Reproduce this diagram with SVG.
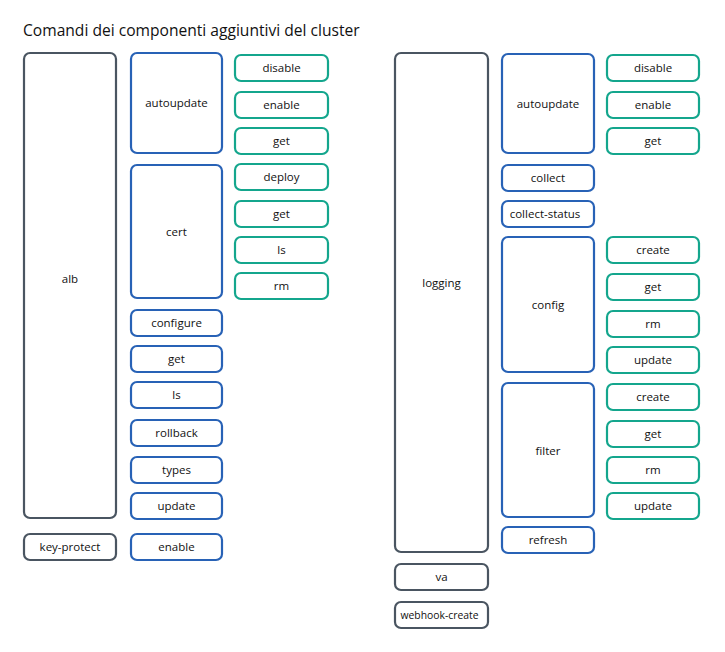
<svg xmlns="http://www.w3.org/2000/svg" width="725" height="652" viewBox="0 0 725 652">
<style>
rect{fill:#fff;stroke-width:2.2}
.g{stroke:#4a5561}
.b{stroke:#2862b6}
.t{stroke:#14a68d}
text{font-family:"Open Sans","Noto Sans","Liberation Sans",sans-serif;font-size:11.5px;fill:#111;text-anchor:middle}
.title{font-size:15.6px;text-anchor:start}
</style>
<rect x="0" y="0" width="725" height="652" style="fill:#fff;stroke:none"/>
<text class="title" x="23" y="35.5">Comandi dei componenti aggiuntivi del cluster</text>
<g id="connectors"></g>
<!-- left gray -->
<g id="alb"><rect class="g" x="24" y="53" width="92" height="465" rx="6"/><text x="70" y="283">alb</text></g>
<g id="key-protect"><rect class="g" x="24" y="534" width="92" height="26" rx="6"/><text x="70" y="551">key-protect</text></g>
<!-- left blue -->
<g id="alb-autoupdate"><rect class="b" x="131" y="53" width="91" height="100" rx="6"/><text x="176.5" y="107">autoupdate</text></g>
<g id="alb-cert"><rect class="b" x="131" y="165" width="91" height="133" rx="6"/><text x="176.5" y="236">cert</text></g>
<g id="alb-configure"><rect class="b" x="131" y="310" width="91" height="26" rx="6"/><text x="176.5" y="327">configure</text></g>
<g id="alb-get"><rect class="b" x="131" y="346" width="91" height="26" rx="6"/><text x="176.5" y="363">get</text></g>
<g id="alb-ls"><rect class="b" x="131" y="382" width="91" height="26" rx="6"/><text x="176.5" y="399">ls</text></g>
<g id="alb-rollback"><rect class="b" x="131" y="420" width="91" height="26" rx="6"/><text x="176.5" y="437">rollback</text></g>
<g id="alb-types"><rect class="b" x="131" y="457" width="91" height="26" rx="6"/><text x="176.5" y="474">types</text></g>
<g id="alb-update"><rect class="b" x="131" y="493" width="91" height="26" rx="6"/><text x="176.5" y="510">update</text></g>
<g id="kp-enable"><rect class="b" x="131" y="534" width="91" height="26" rx="6"/><text x="176.5" y="551">enable</text></g>
<!-- left teal -->
<g id="alb-au-disable"><rect class="t" x="235" y="55" width="93" height="26" rx="6"/><text x="281.5" y="72">disable</text></g>
<g id="alb-au-enable"><rect class="t" x="235" y="92" width="93" height="26" rx="6"/><text x="281.5" y="109">enable</text></g>
<g id="alb-au-get"><rect class="t" x="235" y="128" width="93" height="26" rx="6"/><text x="281.5" y="145">get</text></g>
<g id="alb-cert-deploy"><rect class="t" x="235" y="164" width="93" height="26" rx="6"/><text x="281.5" y="181">deploy</text></g>
<g id="alb-cert-get"><rect class="t" x="235" y="201" width="93" height="26" rx="6"/><text x="281.5" y="218">get</text></g>
<g id="alb-cert-ls"><rect class="t" x="235" y="237" width="93" height="26" rx="6"/><text x="281.5" y="254">ls</text></g>
<g id="alb-cert-rm"><rect class="t" x="235" y="273" width="93" height="26" rx="6"/><text x="281.5" y="290">rm</text></g>
<!-- right gray -->
<g id="logging"><rect class="g" x="395" y="53" width="93" height="499" rx="6"/><text x="441.5" y="287">logging</text></g>
<g id="va"><rect class="g" x="395" y="564" width="93" height="26" rx="6"/><text x="441.5" y="581">va</text></g>
<g id="webhook-create"><rect class="g" x="395" y="602" width="93" height="26" rx="6"/><text x="439.5" y="619" textLength="78" lengthAdjust="spacingAndGlyphs">webhook-create</text></g>
<!-- right blue -->
<g id="log-autoupdate"><rect class="b" x="502" y="54" width="92" height="99" rx="6"/><text x="548" y="108">autoupdate</text></g>
<g id="log-collect"><rect class="b" x="502" y="165" width="92" height="26" rx="6"/><text x="548" y="182">collect</text></g>
<g id="log-collect-status"><rect class="b" x="502" y="201" width="92" height="26" rx="6"/><text x="545" y="218">collect-status</text></g>
<g id="log-config"><rect class="b" x="502" y="237" width="92" height="135" rx="6"/><text x="548" y="309">config</text></g>
<g id="log-filter"><rect class="b" x="502" y="383" width="92" height="134" rx="6"/><text x="548" y="455">filter</text></g>
<g id="log-refresh"><rect class="b" x="502" y="527" width="92" height="26" rx="6"/><text x="548" y="544">refresh</text></g>
<!-- right teal -->
<g id="log-au-disable"><rect class="t" x="607" y="55" width="92" height="26" rx="6"/><text x="653" y="72">disable</text></g>
<g id="log-au-enable"><rect class="t" x="607" y="92" width="92" height="26" rx="6"/><text x="653" y="109">enable</text></g>
<g id="log-au-get"><rect class="t" x="607" y="128" width="92" height="26" rx="6"/><text x="653" y="145">get</text></g>
<g id="log-config-create"><rect class="t" x="607" y="237" width="92" height="26" rx="6"/><text x="653" y="254">create</text></g>
<g id="log-config-get"><rect class="t" x="607" y="274" width="92" height="26" rx="6"/><text x="653" y="291">get</text></g>
<g id="log-config-rm"><rect class="t" x="607" y="311" width="92" height="26" rx="6"/><text x="653" y="328">rm</text></g>
<g id="log-config-update"><rect class="t" x="607" y="347" width="92" height="26" rx="6"/><text x="653" y="364">update</text></g>
<g id="log-filter-create"><rect class="t" x="607" y="384" width="92" height="26" rx="6"/><text x="653" y="401">create</text></g>
<g id="log-filter-get"><rect class="t" x="607" y="421" width="92" height="26" rx="6"/><text x="653" y="438">get</text></g>
<g id="log-filter-rm"><rect class="t" x="607" y="457" width="92" height="26" rx="6"/><text x="653" y="474">rm</text></g>
<g id="log-filter-update"><rect class="t" x="607" y="493" width="92" height="26" rx="6"/><text x="653" y="510">update</text></g>
</svg>
